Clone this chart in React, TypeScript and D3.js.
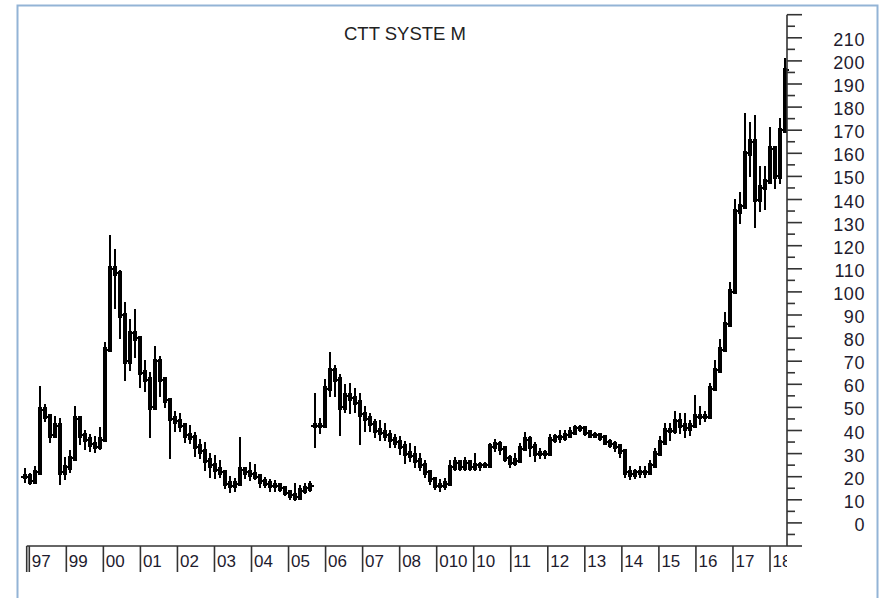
import React from "react";
import * as d3 from "d3";

const width = 881;
const height = 598;

// year tick labels along the bottom, as printed on the chart
const tickYears = [1998, 1999, 2000, 2001, 2002, 2003, 2004, 2005, 2006, 2007, 2008, 2009, 2010, 2011, 2012, 2013, 2014, 2015, 2016, 2017, 2018];
const tickLabels = ["97", "99", "00", "01", "02", "03", "04", "05", "06", "07", "08", "010", "10", "11", "12", "13", "14", "15", "16", "17", "18"];

const yTicks = [0, 10, 20, 30, 40, 50, 60, 70, 80, 90, 100, 110, 120, 130, 140, 150, 160, 170, 180, 190, 200, 210];

// bar series (one bar per period)
const startYear = 1997.884;
const barStep = 0.135;

const high = [
  23.5, 21, 24, 59, 51, 45, 46, 45, 28, 31, 50, 46, 40, 38, 37, 41, 78, 124, 118, 109,
  95, 88, 92, 79, 70, 65, 76, 72, 57, 52, 48, 47, 43, 42, 38.8, 36, 34.5, 30, 29, 27,
  22, 19.8, 19, 36.7, 23.7, 26, 25, 20, 19.5, 18.5, 18, 17, 15.5, 14, 17, 16, 17, 17.6, 56, 45,
  62, 73.6, 68, 64, 59.6, 60, 58, 56, 50, 47, 44.5, 44, 43, 40, 38, 37, 35, 34, 32.8, 30,
  27, 22, 19.4, 18.5, 19, 27, 28, 26.5, 28, 26, 29.7, 26, 26, 34, 36, 35, 31, 29, 30, 34,
  39, 37, 34.5, 32, 31, 38, 38, 40, 40, 41, 42, 42, 41, 39, 39, 38.5, 37, 36, 35, 33,
  28.5, 24, 23, 24, 24, 27, 32, 37, 43, 43, 48, 47, 47, 44, 55, 50, 48, 60, 70, 79,
  90.8, 104, 140, 143, 177, 173, 176, 154, 154, 171, 162, 175, 201,
];
const low = [
  17.6, 17, 18.5, 31, 44, 35, 37, 17, 19, 22, 35, 34, 32, 31, 30.5, 32, 38, 85, 93, 80,
  62, 66, 72, 59, 57, 37, 59, 55, 50, 28, 40, 40, 35, 34.5, 29, 28, 23, 20, 19.5, 19.8,
  15, 13.5, 14, 19.8, 19.4, 18.5, 19, 15.5, 15.5, 14, 14, 14, 12, 10.5, 10, 12, 13, 14, 33, 38.8,
  42, 55, 55, 38, 48, 47.5, 48, 34, 40, 40, 37, 36, 35.8, 33, 32.8, 30, 26, 27, 24, 22.8,
  19.8, 17, 14.5, 14, 14.5, 19.8, 22.8, 22.8, 23, 22.8, 23, 23, 24, 28, 31, 30, 27, 24, 25, 27,
  31.4, 29, 27, 28, 28, 30, 35, 35, 36, 37, 39, 40, 38, 37, 37, 36, 34.5, 33, 31, 28.5,
  19.8, 19, 19.5, 20, 19.8, 22, 25.8, 30, 35.8, 36, 39, 39, 37.2, 38, 42, 43, 44, 50, 60, 69,
  80, 90, 104, 129.7, 148, 150, 128, 135, 136, 150, 145, 147, 180,
];
const close = [
  20, 18, 22, 49, 46, 38, 42, 22, 24, 28, 45, 38, 36, 34, 33, 36, 75, 110, 108, 90,
  70, 82, 80, 65, 62, 50, 70, 62, 53, 45, 44, 42, 38, 37, 33, 31, 27, 25, 23, 22,
  17, 16, 17, 23, 22, 21, 20, 18, 17, 16, 16, 15, 13, 12, 11, 14, 15, 16, 42, 42,
  58, 66, 62, 50, 55, 54, 52, 47, 45, 43, 40, 39, 38, 36, 35, 33, 30, 29, 27, 25,
  22, 19, 16, 16, 17, 24, 26, 24, 26, 24, 25, 25, 25, 33, 34, 32, 28, 26, 27, 32,
  36, 33, 30, 30, 30, 36, 37, 37, 38, 39, 41, 41, 39, 38, 38, 37, 35, 34, 33, 31,
  22, 21, 22, 22, 22, 25, 30, 35, 40, 40, 44, 42, 41, 42, 46, 46, 46, 58, 66, 75,
  86, 100, 135, 137, 160, 165, 140, 145, 148, 162, 150, 170, 196,
];

const x = d3.scaleLinear().domain([1998, 2018]).range([29.3, 770]);
const y = d3.scaleLinear().domain([-10, 220]).range([546, 14.7]);

const plotLeft = x(1997.93);
const plotRight = 787;
const plotBottom = y(-10);
const plotTop = y(220);

const textStyle = { fontFamily: "'Liberation Sans', Arial, sans-serif", fontSize: "18px", fill: "#1e1b2e" };

export default function App() {
  const minorTicks = d3.range(-10, 221, 5);
  const bw = x(startYear + barStep) - x(startYear);
  const bars = high.map((h, i) => {
    // the first bar of a new price level opens at its own close
    const o = i === 0 || i === 58 ? close[i] : close[i - 1];
    return {
      x: Math.round(x(startYear + i * barStep)),
      h,
      l: low[i],
      o,
      c: close[i],
    };
  });

  return (
    <svg width={width} height={height} style={{ position: "absolute", left: 0, top: 0, background: "#ffffff" }}>
      <defs>
        <clipPath id="plotClip">
          <rect x={0} y={0} width={plotRight} height={height} />
        </clipPath>
      </defs>
      <rect x={17.5} y={5.5} width={860} height={700} fill="none" stroke="#93b4d6" strokeWidth={2} />

      <text x={405} y={40} textAnchor="middle" style={{ ...textStyle, fontSize: "18.5px", fill: "#222" }}>
        CTT SYSTE M
      </text>

      {/* bars */}
      <g stroke="#000" fill="#000" shapeRendering="crispEdges">
        {bars.map((b, i) => (
          <g key={i}>
            <line x1={b.x} x2={b.x} y1={y(b.h) - 1} y2={y(b.l) + 1} strokeWidth={2.5} />
            <rect
              x={b.x - bw / 2}
              width={bw}
              y={y(Math.max(b.o, b.c)) - 2.5}
              height={Math.abs(y(b.o) - y(b.c)) + 5}
              stroke="none"
            />
            <line x1={b.x - 4} x2={b.x} y1={y(b.o)} y2={y(b.o)} strokeWidth={2} />
            <line x1={b.x} x2={b.x + 4} y1={y(b.c)} y2={y(b.c)} strokeWidth={2} />
          </g>
        ))}
      </g>

      {/* right axis */}
      <g stroke="#333" strokeWidth={1.6}>
        <line x1={plotRight} x2={plotRight} y1={plotTop} y2={plotBottom} />
        {minorTicks.map((v) => (
          <line key={v} x1={plotRight} x2={plotRight + (v % 10 === 0 ? 15 : 8)} y1={y(v)} y2={y(v)} />
        ))}
      </g>
      {yTicks.map((v) => (
        <text key={v} x={865} y={y(v) + 8} textAnchor="end" style={{ ...textStyle, letterSpacing: "0.6px" }}>
          {v}
        </text>
      ))}

      {/* bottom axis */}
      <g stroke="#333" strokeWidth={1.6}>
        <line x1={plotLeft} x2={plotRight} y1={plotBottom} y2={plotBottom} />
        <line x1={plotLeft} x2={plotLeft} y1={plotBottom} y2={plotBottom + 26} />
        {tickYears.map((t) => (
          <line key={t} x1={x(t)} x2={x(t)} y1={plotBottom} y2={plotBottom + 26} />
        ))}
      </g>
      <g clipPath="url(#plotClip)">
        {tickYears.map((t, i) => (
          <text key={t} x={x(t) + 2.5} y={plotBottom + 21} style={{ ...textStyle, fontSize: "17px" }}>
            {tickLabels[i]}
          </text>
        ))}
      </g>
    </svg>
  );
}
